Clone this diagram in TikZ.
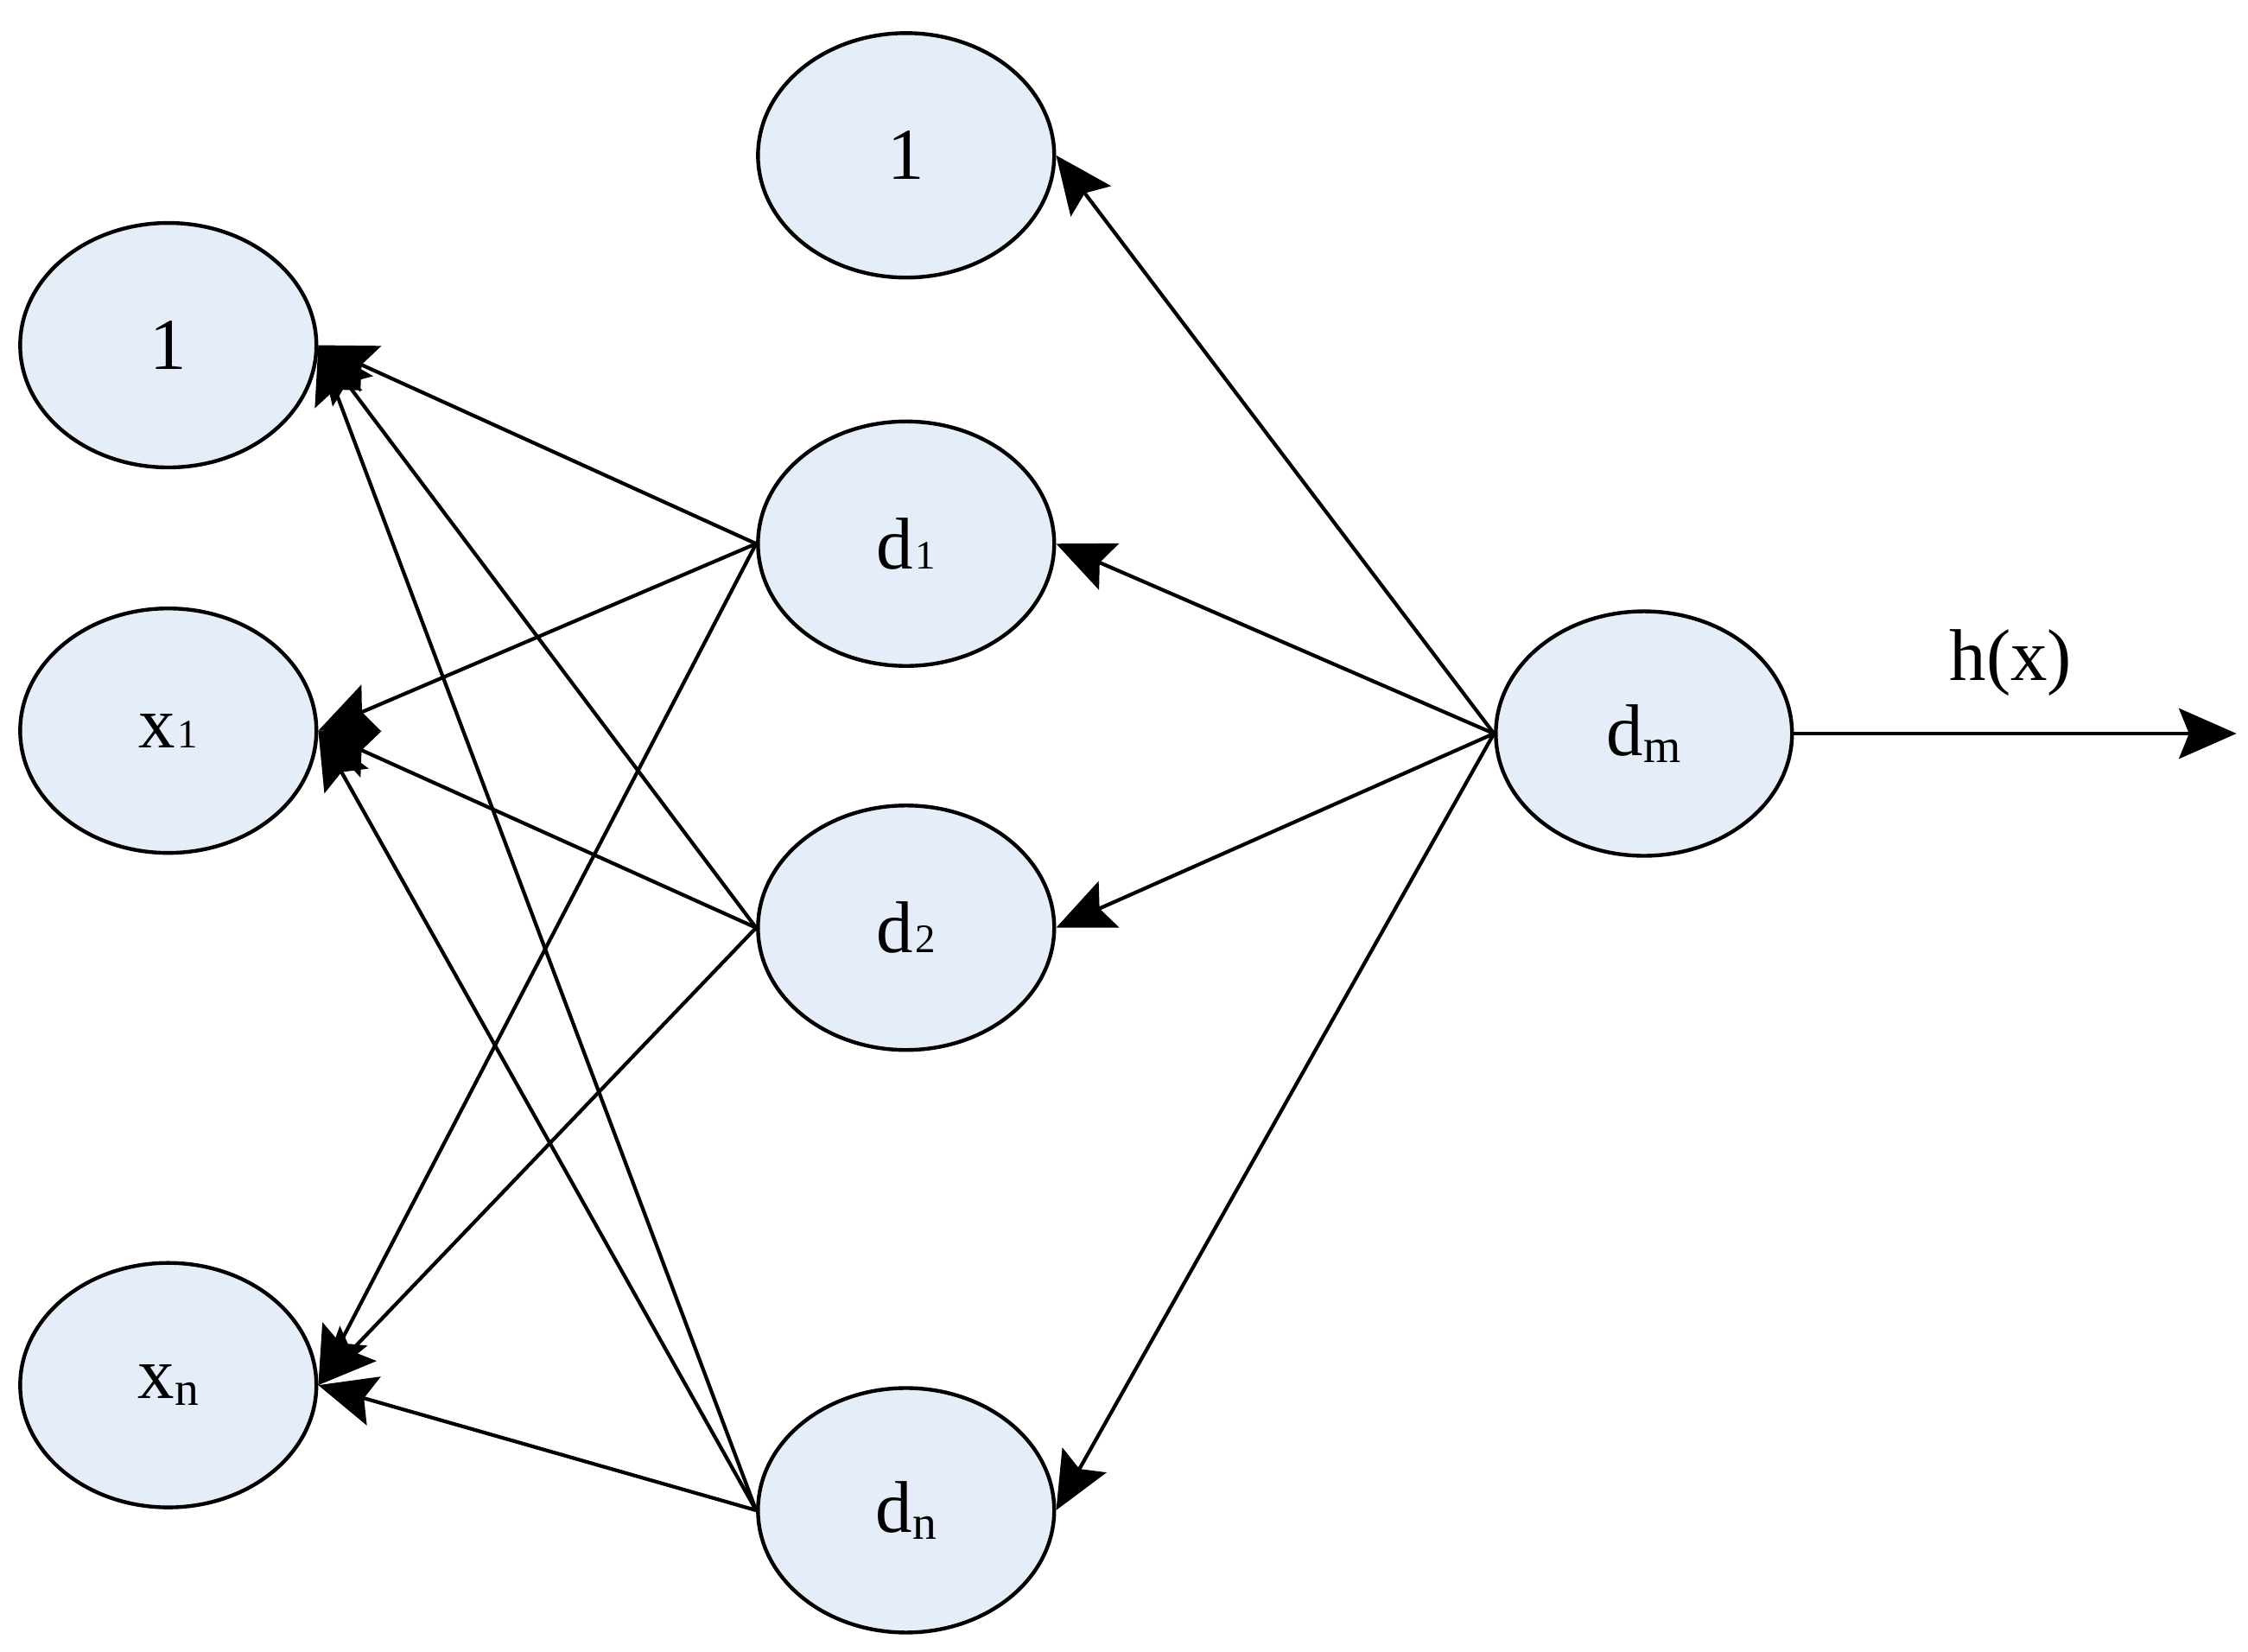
\documentclass[tikz,border=0pt]{standalone}
\usepackage{fontspec}
\setmainfont{Liberation Serif}
\usetikzlibrary{shapes.geometric,arrows.meta}
\definecolor{nodefill}{RGB}{229,237,248}
\newcommand\mysubdig[1]{\kern0.8pt{\fontsize{16}{16}\selectfont #1}}
\newcommand\mysublet[1]{\kern0.2pt\raisebox{-2.7pt}{\fontsize{19}{19}\selectfont #1}}
\begin{document}
\begin{tikzpicture}[x=0.02cm,y=-0.02cm,
  neuron/.style={ellipse,draw=black,line width=1.5pt,fill=nodefill,
    minimum width=4.12cm,minimum height=3.4cm,inner sep=0pt,
    font=\fontsize{29}{34}\selectfont},
  conn/.style={line width=1.45pt,-{Stealth[length=0.8cm,width=0.7cm,inset=0.14cm]}},
  lbl/.style={font=\fontsize{29}{34}\selectfont,inner sep=0pt}]
\useasboundingbox (0,0) rectangle (1563,1148);
\node[neuron] (l1) at (117,240) {1};
\node[neuron] (x1) at (117,508) {x\mysubdig{1}};
\node[neuron] (xn) at (117,963) {x\mysublet{n}};
\node[neuron] (t1) at (630,108) {1};
\node[neuron] (d1) at (630,378) {d\mysubdig{1}};
\node[neuron] (d2) at (630,645) {d\mysubdig{2}};
\node[neuron] (dn) at (630,1050) {d\mysublet{n}};
\node[neuron] (dm) at (1143,510) {d\mysublet{m}};
\coordinate (out) at (1555,510);
\node[lbl,anchor=base] (hx) at (1398,473) {h(x)};
\foreach \s in {d1,d2,dn}{
  \foreach \t in {l1,x1,xn}{
    \draw[conn] (\s.west) -- (\t.east);
  }
}
\foreach \t in {t1,d1,d2,dn}{
  \draw[conn] (dm.west) -- (\t.east);
}
\draw[conn] (dm.east) -- (out);
\end{tikzpicture}
\end{document}
